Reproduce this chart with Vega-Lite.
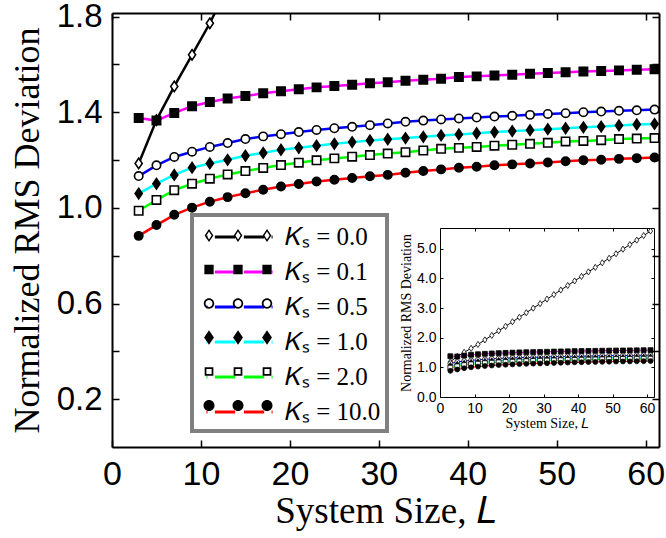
{
  "$schema": "https://vega.github.io/schema/vega-lite/v6.json",
  "width": 547,
  "height": 434,
  "autosize": {"type": "none"},
  "padding": {"left": 112, "top": 13, "right": 7, "bottom": 91},
  "background": "white",
  "config": {
    "view": {"stroke": null},
    "legend": {"strokeWidth": 4},
    "axis": {"grid": false, "labelColor": "black", "tickColor": "black", "domainColor": "black", "titleColor": "black", "titleFontWeight": "normal", "labelFlush": false, "labelOverlap": false, "labelBound": false}
  },
  "data": {"values": [
    {"L":3,"KS":"0.0","v":1.186},{"L":5,"KS":"0.0","v":1.367},{"L":7,"KS":"0.0","v":1.508},{"L":9,"KS":"0.0","v":1.640},{"L":11,"KS":"0.0","v":1.772},{"L":13,"KS":"0.0","v":1.925},{"L":15,"KS":"0.0","v":2.078},{"L":17,"KS":"0.0","v":2.231},{"L":19,"KS":"0.0","v":2.384},{"L":21,"KS":"0.0","v":2.537},{"L":23,"KS":"0.0","v":2.690},{"L":25,"KS":"0.0","v":2.843},{"L":27,"KS":"0.0","v":2.996},{"L":29,"KS":"0.0","v":3.149},{"L":31,"KS":"0.0","v":3.302},{"L":33,"KS":"0.0","v":3.455},{"L":35,"KS":"0.0","v":3.608},{"L":37,"KS":"0.0","v":3.761},{"L":39,"KS":"0.0","v":3.914},{"L":41,"KS":"0.0","v":4.067},{"L":43,"KS":"0.0","v":4.220},{"L":45,"KS":"0.0","v":4.373},{"L":47,"KS":"0.0","v":4.526},{"L":49,"KS":"0.0","v":4.679},{"L":51,"KS":"0.0","v":4.832},{"L":53,"KS":"0.0","v":4.985},{"L":55,"KS":"0.0","v":5.138},{"L":57,"KS":"0.0","v":5.291},{"L":59,"KS":"0.0","v":5.444},{"L":61,"KS":"0.0","v":5.597},
    {"L":3,"KS":"0.1","v":1.376},{"L":5,"KS":"0.1","v":1.365},{"L":7,"KS":"0.1","v":1.397},{"L":9,"KS":"0.1","v":1.425},{"L":11,"KS":"0.1","v":1.443},{"L":13,"KS":"0.1","v":1.457},{"L":15,"KS":"0.1","v":1.468},{"L":17,"KS":"0.1","v":1.479},{"L":19,"KS":"0.1","v":1.488},{"L":21,"KS":"0.1","v":1.496},{"L":23,"KS":"0.1","v":1.504},{"L":25,"KS":"0.1","v":1.510},{"L":27,"KS":"0.1","v":1.515},{"L":29,"KS":"0.1","v":1.521},{"L":31,"KS":"0.1","v":1.525},{"L":33,"KS":"0.1","v":1.532},{"L":35,"KS":"0.1","v":1.536},{"L":37,"KS":"0.1","v":1.540},{"L":39,"KS":"0.1","v":1.547},{"L":41,"KS":"0.1","v":1.550},{"L":43,"KS":"0.1","v":1.554},{"L":45,"KS":"0.1","v":1.557},{"L":47,"KS":"0.1","v":1.561},{"L":49,"KS":"0.1","v":1.564},{"L":51,"KS":"0.1","v":1.567},{"L":53,"KS":"0.1","v":1.570},{"L":55,"KS":"0.1","v":1.572},{"L":57,"KS":"0.1","v":1.575},{"L":59,"KS":"0.1","v":1.578},{"L":61,"KS":"0.1","v":1.580},
    {"L":3,"KS":"0.5","v":1.133},{"L":5,"KS":"0.5","v":1.178},{"L":7,"KS":"0.5","v":1.213},{"L":9,"KS":"0.5","v":1.235},{"L":11,"KS":"0.5","v":1.255},{"L":13,"KS":"0.5","v":1.271},{"L":15,"KS":"0.5","v":1.288},{"L":17,"KS":"0.5","v":1.299},{"L":19,"KS":"0.5","v":1.308},{"L":21,"KS":"0.5","v":1.317},{"L":23,"KS":"0.5","v":1.326},{"L":25,"KS":"0.5","v":1.333},{"L":27,"KS":"0.5","v":1.339},{"L":29,"KS":"0.5","v":1.346},{"L":31,"KS":"0.5","v":1.353},{"L":33,"KS":"0.5","v":1.360},{"L":35,"KS":"0.5","v":1.365},{"L":37,"KS":"0.5","v":1.370},{"L":39,"KS":"0.5","v":1.374},{"L":41,"KS":"0.5","v":1.378},{"L":43,"KS":"0.5","v":1.382},{"L":45,"KS":"0.5","v":1.385},{"L":47,"KS":"0.5","v":1.389},{"L":49,"KS":"0.5","v":1.393},{"L":51,"KS":"0.5","v":1.396},{"L":53,"KS":"0.5","v":1.400},{"L":55,"KS":"0.5","v":1.403},{"L":57,"KS":"0.5","v":1.406},{"L":59,"KS":"0.5","v":1.408},{"L":61,"KS":"0.5","v":1.411},
    {"L":3,"KS":"1.0","v":1.060},{"L":5,"KS":"1.0","v":1.101},{"L":7,"KS":"1.0","v":1.138},{"L":9,"KS":"1.0","v":1.168},{"L":11,"KS":"1.0","v":1.186},{"L":13,"KS":"1.0","v":1.201},{"L":15,"KS":"1.0","v":1.218},{"L":17,"KS":"1.0","v":1.230},{"L":19,"KS":"1.0","v":1.243},{"L":21,"KS":"1.0","v":1.251},{"L":23,"KS":"1.0","v":1.260},{"L":25,"KS":"1.0","v":1.268},{"L":27,"KS":"1.0","v":1.275},{"L":29,"KS":"1.0","v":1.282},{"L":31,"KS":"1.0","v":1.287},{"L":33,"KS":"1.0","v":1.292},{"L":35,"KS":"1.0","v":1.297},{"L":37,"KS":"1.0","v":1.303},{"L":39,"KS":"1.0","v":1.307},{"L":41,"KS":"1.0","v":1.312},{"L":43,"KS":"1.0","v":1.317},{"L":45,"KS":"1.0","v":1.321},{"L":47,"KS":"1.0","v":1.325},{"L":49,"KS":"1.0","v":1.329},{"L":51,"KS":"1.0","v":1.333},{"L":53,"KS":"1.0","v":1.337},{"L":55,"KS":"1.0","v":1.340},{"L":57,"KS":"1.0","v":1.345},{"L":59,"KS":"1.0","v":1.349},{"L":61,"KS":"1.0","v":1.351},
    {"L":3,"KS":"2.0","v":0.988},{"L":5,"KS":"2.0","v":1.033},{"L":7,"KS":"2.0","v":1.074},{"L":9,"KS":"2.0","v":1.101},{"L":11,"KS":"2.0","v":1.122},{"L":13,"KS":"2.0","v":1.140},{"L":15,"KS":"2.0","v":1.154},{"L":17,"KS":"2.0","v":1.167},{"L":19,"KS":"2.0","v":1.179},{"L":21,"KS":"2.0","v":1.189},{"L":23,"KS":"2.0","v":1.199},{"L":25,"KS":"2.0","v":1.207},{"L":27,"KS":"2.0","v":1.214},{"L":29,"KS":"2.0","v":1.221},{"L":31,"KS":"2.0","v":1.227},{"L":33,"KS":"2.0","v":1.233},{"L":35,"KS":"2.0","v":1.240},{"L":37,"KS":"2.0","v":1.247},{"L":39,"KS":"2.0","v":1.251},{"L":41,"KS":"2.0","v":1.255},{"L":43,"KS":"2.0","v":1.260},{"L":45,"KS":"2.0","v":1.264},{"L":47,"KS":"2.0","v":1.268},{"L":49,"KS":"2.0","v":1.272},{"L":51,"KS":"2.0","v":1.278},{"L":53,"KS":"2.0","v":1.280},{"L":55,"KS":"2.0","v":1.283},{"L":57,"KS":"2.0","v":1.288},{"L":59,"KS":"2.0","v":1.290},{"L":61,"KS":"2.0","v":1.292},
    {"L":3,"KS":"10.0","v":0.883},{"L":5,"KS":"10.0","v":0.928},{"L":7,"KS":"10.0","v":0.971},{"L":9,"KS":"10.0","v":1.001},{"L":11,"KS":"10.0","v":1.026},{"L":13,"KS":"10.0","v":1.045},{"L":15,"KS":"10.0","v":1.061},{"L":17,"KS":"10.0","v":1.076},{"L":19,"KS":"10.0","v":1.089},{"L":21,"KS":"10.0","v":1.100},{"L":23,"KS":"10.0","v":1.110},{"L":25,"KS":"10.0","v":1.118},{"L":27,"KS":"10.0","v":1.125},{"L":29,"KS":"10.0","v":1.132},{"L":31,"KS":"10.0","v":1.138},{"L":33,"KS":"10.0","v":1.147},{"L":35,"KS":"10.0","v":1.154},{"L":37,"KS":"10.0","v":1.161},{"L":39,"KS":"10.0","v":1.168},{"L":41,"KS":"10.0","v":1.172},{"L":43,"KS":"10.0","v":1.178},{"L":45,"KS":"10.0","v":1.182},{"L":47,"KS":"10.0","v":1.186},{"L":49,"KS":"10.0","v":1.190},{"L":51,"KS":"10.0","v":1.195},{"L":53,"KS":"10.0","v":1.199},{"L":55,"KS":"10.0","v":1.201},{"L":57,"KS":"10.0","v":1.205},{"L":59,"KS":"10.0","v":1.208},{"L":61,"KS":"10.0","v":1.211}
  ]},
  "layer": [
    {
      "encoding": {
        "x": {"field": "L", "type": "quantitative", "scale": {"domain": [0, 61.5], "nice": false, "zero": false},
          "axis": {"orient": "bottom", "values": [0, 10, 20, 30, 40, 50, 60], "labelFont": "Liberation Sans", "labelFontSize": 34, "labelPadding": 17, "tickSize": -7, "tickWidth": 1.5, "domainWidth": 2, "title": "System Size, 𝐿", "titleFont": "Liberation Serif", "titleFontSize": 37, "titlePadding": 2}},
        "y": {"field": "v", "type": "quantitative", "scale": {"domain": [0, 1.815], "nice": false, "zero": false},
          "axis": {"orient": "left", "values": [0.2, 0.4, 0.6, 0.8, 1.0, 1.2, 1.4, 1.6, 1.8], "labelExpr": "(round(datum.value*10) % 4 == 2) ? format(datum.value, '.1f') : ''", "labelFont": "Liberation Sans", "labelFontSize": 33, "labelPadding": 17, "tickSize": -7, "tickWidth": 1.5, "domainWidth": 2, "title": "Normalized RMS Deviation", "titleFont": "Liberation Serif", "titleFontSize": 36, "titlePadding": 10}}
      },
      "layer": [
        {
          "mark": {"type": "line", "strokeWidth": 2.5, "clip": true},
          "encoding": {
            "stroke": {"field": "KS", "type": "nominal",
              "scale": {"domain": ["0.0", "0.1", "0.5", "1.0", "2.0", "10.0"], "range": ["black", "#ff00ff", "#0000ff", "#00ffff", "#00ff00", "#ff0000"]},
              "legend": null}
          }
        },
        {
          "mark": {"type": "point", "filled": true, "stroke": "black", "strokeWidth": 1.6, "size": 70, "opacity": 1, "clip": true},
          "encoding": {
            "shape": {"field": "KS", "type": "nominal", "scale": {"domain": ["0.0", "0.1", "0.5", "1.0", "2.0", "10.0"], "range": ["M0,-1.25L0.85,0L0,1.25L-0.85,0Z", "square", "circle", "M0,-1.25L0.85,0L0,1.25L-0.85,0Z", "square", "circle"]}, "legend": null},
            "fill": {"field": "KS", "type": "nominal", "scale": {"domain": ["0.0", "0.1", "0.5", "1.0", "2.0", "10.0"], "range": ["white", "black", "white", "black", "white", "black"]}, "legend": null}
          }
        }
      ]
    },
    {
      "mark": {"type": "point", "opacity": 0, "clip": true},
      "encoding": {
        "x": {"field": "L", "type": "quantitative", "scale": {"domain": [0, 61.5], "nice": false, "zero": false},
          "axis": {"orient": "top", "values": [0, 10, 20, 30, 40, 50, 60], "labels": false, "tickSize": -7, "tickWidth": 1.5, "domainWidth": 2, "title": null}},
        "y": {"field": "v", "type": "quantitative", "scale": {"domain": [0, 1.815], "nice": false, "zero": false},
          "axis": {"orient": "right", "values": [0.2, 0.4, 0.6, 0.8, 1.0, 1.2, 1.4, 1.6, 1.8], "labels": false, "tickSize": -7, "tickWidth": 1.5, "domainWidth": 2, "title": null}}
      }
    },
    {
      "encoding": {
        "x": {"field": "L", "type": "quantitative", "scale": {"domain": [0, 62], "range": [328, 542], "nice": false, "zero": false},
          "axis": {"orient": "bottom", "offset": -50, "values": [0, 10, 20, 30, 40, 50, 60], "labelFont": "Liberation Sans", "labelFontSize": 14, "labelPadding": 7, "tickSize": -3, "tickWidth": 1, "domainWidth": 1, "title": "System Size, 𝐿", "titleFont": "Liberation Serif", "titleFontSize": 14, "titlePadding": 1}},
        "y": {"field": "v", "type": "quantitative", "scale": {"domain": [0, 5.7], "range": [384, 215], "nice": false, "zero": false},
          "axis": {"orient": "left", "offset": -328, "values": [0, 1, 2, 3, 4, 5], "format": ".1f", "labelFont": "Liberation Sans", "labelFontSize": 14, "labelPadding": 7, "tickSize": -3, "tickWidth": 1, "domainWidth": 1, "title": "Normalized RMS Deviation", "titleFont": "Liberation Serif", "titleFontSize": 14, "titlePadding": 3}}
      },
      "layer": [
        {
          "mark": {"type": "line", "strokeWidth": 1},
          "encoding": {
            "stroke": {"field": "KS", "type": "nominal", "scale": {"domain": ["0.0", "0.1", "0.5", "1.0", "2.0", "10.0"], "range": ["black", "#ff00ff", "#0000ff", "#00ffff", "#00ff00", "#ff0000"]}, "legend": null}
          }
        },
        {
          "mark": {"type": "point", "filled": true, "stroke": "black", "strokeWidth": 0.8, "size": 24, "opacity": 1},
          "encoding": {
            "shape": {"field": "KS", "type": "nominal", "scale": {"domain": ["0.0", "0.1", "0.5", "1.0", "2.0", "10.0"], "range": ["M0,-1.25L0.85,0L0,1.25L-0.85,0Z", "square", "circle", "M0,-1.25L0.85,0L0,1.25L-0.85,0Z", "square", "circle"]}, "legend": null},
            "fill": {"field": "KS", "type": "nominal", "scale": {"domain": ["0.0", "0.1", "0.5", "1.0", "2.0", "10.0"], "range": ["white", "black", "white", "black", "white", "black"]}, "legend": null}
          }
        }
      ]
    },
    {
      "mark": {"type": "point", "opacity": 0},
      "encoding": {
        "x": {"field": "L", "type": "quantitative", "scale": {"domain": [0, 62], "range": [328, 542], "nice": false, "zero": false},
          "axis": {"orient": "top", "offset": -215, "values": [0, 10, 20, 30, 40, 50, 60], "labels": false, "tickSize": -3, "tickWidth": 1, "domainWidth": 1, "title": null}},
        "y": {"field": "v", "type": "quantitative", "scale": {"domain": [0, 5.7], "range": [384, 215], "nice": false, "zero": false},
          "axis": {"orient": "right", "offset": -5, "values": [0, 1, 2, 3, 4, 5], "labels": false, "tickSize": -3, "tickWidth": 1, "domainWidth": 1, "title": null}}
      }
    },
    {
      "mark": {"type": "line", "opacity": 0},
      "encoding": {
        "x": {"field": "L", "type": "quantitative", "axis": null},
        "y": {"field": "v", "type": "quantitative", "axis": null},
        "stroke": {"field": "KS", "type": "nominal",
          "scale": {"domain": ["0.0", "0.1", "0.5", "1.0", "2.0", "10.0"], "range": ["black", "#ff00ff", "#0000ff", "#00ffff", "#00ff00", "#ff0000"]},
          "legend": {"orient": "none", "legendX": 80, "legendY": 202, "title": null, "padding": 6, "symbolSize": 841, "symbolType": "M-0.52,0H-0.45M0.06,0H1.46M2.06,0H3.46M3.97,0H4.04", "symbolStrokeWidth": 3, "symbolOpacity": 1, "symbolFillColor": "transparent", "labelFont": "Liberation Serif", "labelFontSize": 25, "labelColor": "black", "labelOffset": 55, "rowPadding": 6, "strokeColor": "#808080", "fillColor": "white", "zindex": 1, "labelExpr": "'𝐾ₛ = ' + datum.label"}}
      }
    },
    {
      "mark": {"type": "point", "filled": true, "color": "black", "opacity": 0},
      "encoding": {
        "x": {"field": "L", "type": "quantitative", "axis": null},
        "y": {"field": "v", "type": "quantitative", "axis": null},
        "shape": {"field": "KS", "type": "nominal",
          "scale": {"domain": ["0.0", "0.1", "0.5", "1.0", "2.0", "10.0"], "range": [
            "M-0.24,-0.45L0.06,0L-0.24,0.45L-0.54,0Z M-0.24,-0.27L-0.42,0L-0.24,0.27L-0.06,0Z M1.76,-0.45L2.06,0L1.76,0.45L1.46,0Z M1.76,-0.27L1.58,0L1.76,0.27L1.94,0Z M3.76,-0.45L4.06,0L3.76,0.45L3.46,0Z M3.76,-0.27L3.58,0L3.76,0.27L3.94,0Z",
            "M-0.56,-0.32H0.08V0.32H-0.56Z M1.44,-0.32H2.08V0.32H1.44Z M3.44,-0.32H4.08V0.32H3.44Z",
            "M0.12,0A0.36,0.36,0,1,1,-0.6,0A0.36,0.36,0,1,1,0.12,0Z M0,0A0.24,0.24,0,1,0,-0.48,0A0.24,0.24,0,1,0,0,0Z M2.12,0A0.36,0.36,0,1,1,1.4,0A0.36,0.36,0,1,1,2.12,0Z M2,0A0.24,0.24,0,1,0,1.52,0A0.24,0.24,0,1,0,2,0Z M4.12,0A0.36,0.36,0,1,1,3.4,0A0.36,0.36,0,1,1,4.12,0Z M4,0A0.24,0.24,0,1,0,3.52,0A0.24,0.24,0,1,0,4,0Z",
            "M-0.24,-0.5L0.1,0L-0.24,0.5L-0.58,0Z M1.76,-0.5L2.1,0L1.76,0.5L1.42,0Z M3.76,-0.5L4.1,0L3.76,0.5L3.42,0Z",
            "M-0.54,-0.3H0.06V0.3H-0.54Z M-0.42,-0.18V0.18H-0.06V-0.18Z M1.46,-0.3H2.06V0.3H1.46Z M1.58,-0.18V0.18H1.94V-0.18Z M3.46,-0.3H4.06V0.3H3.46Z M3.58,-0.18V0.18H3.94V-0.18Z",
            "M0.14,0A0.38,0.38,0,1,1,-0.62,0A0.38,0.38,0,1,1,0.14,0Z M2.14,0A0.38,0.38,0,1,1,1.38,0A0.38,0.38,0,1,1,2.14,0Z M4.14,0A0.38,0.38,0,1,1,3.38,0A0.38,0.38,0,1,1,4.14,0Z"]},
          "legend": {"orient": "none", "legendX": 80, "legendY": 202, "title": null, "padding": 6, "symbolSize": 841, "symbolFillColor": "black", "symbolStrokeColor": "transparent", "symbolStrokeWidth": 0, "symbolOpacity": 1, "labelFont": "Liberation Serif", "labelFontSize": 25, "labelColor": "black", "labelOpacity": 0, "labelOffset": 55, "rowPadding": 6, "zindex": 2, "labelExpr": "'𝐾ₛ = ' + datum.label"}}
      }
    }
  ],
  "resolve": {"scale": {"x": "independent", "y": "independent", "shape": "independent", "fill": "independent", "stroke": "independent"}}
}
